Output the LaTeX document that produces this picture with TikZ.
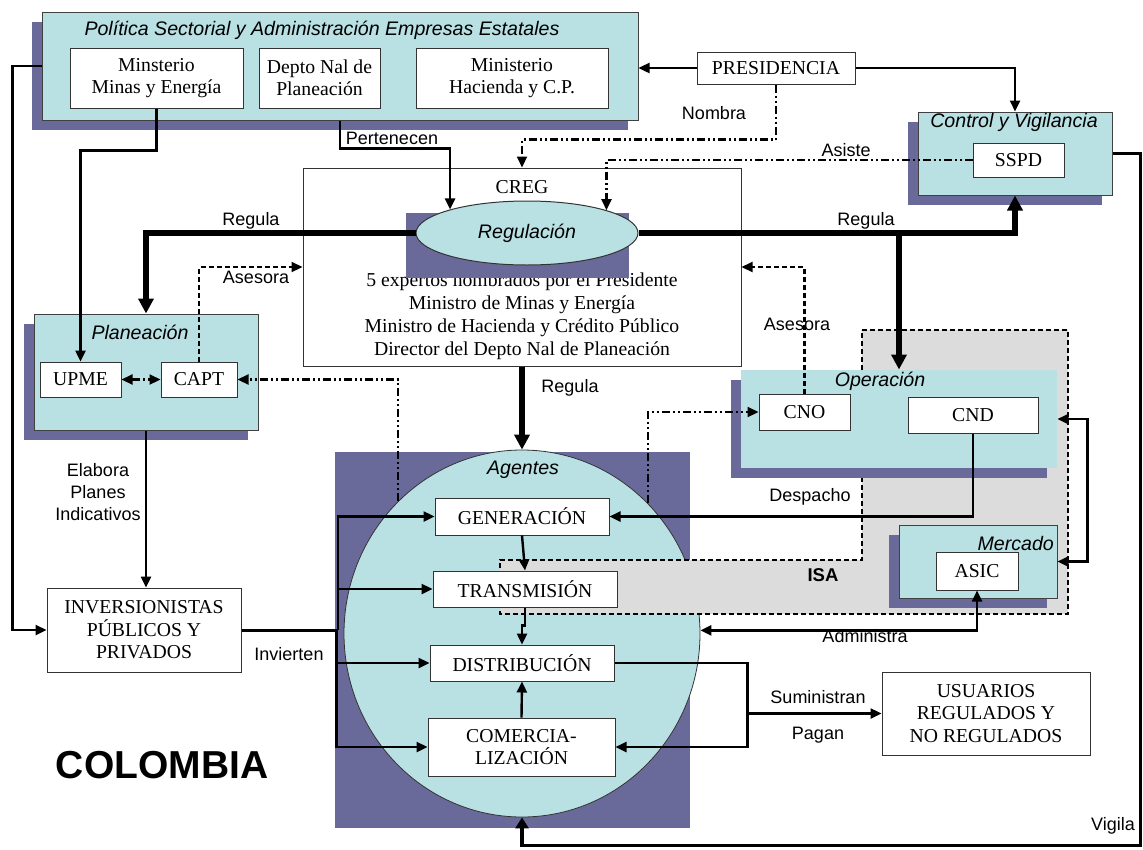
\documentclass[tikz,border=0pt]{standalone}
\usepackage{fontspec}
\setmainfont{Liberation Serif}
\setsansfont{Liberation Sans}
\usetikzlibrary{arrows.meta,shapes.geometric,shadows,calc}
\definecolor{tealc}{HTML}{B9E0E3}
\definecolor{shadc}{HTML}{6A6A9A}
\definecolor{isac}{HTML}{DCDCDC}
\newcommand\bxfont{\fontsize{19.7}{22.5}\selectfont\rmfamily}
\newcommand\lbfont{\fontsize{18}{22}\selectfont\sffamily}
\newcommand\tlfont{\fontsize{19.6}{22}\selectfont\sffamily\itshape}
\begin{document}
\begin{tikzpicture}[x=1pt,y=-1pt,
 wbox/.style={draw=black!80,fill=white,line width=1pt,inner sep=0pt,align=center,font=\bxfont},
 panel/.style={draw=black!75,fill=tealc,line width=1pt,inner sep=0pt,drop shadow={shadow xshift=-10pt,shadow yshift=-10pt,fill=shadc,opacity=1}},
 ttl/.style={font=\tlfont,inner sep=0pt},
 lbl/.style={font=\lbfont,inner sep=0pt,align=center},
 conn/.style={line width=2.4pt,-{Triangle[length=11pt,width=10pt]}},
 conntwo/.style={line width=2.4pt,{Triangle[length=11pt,width=10pt]}-{Triangle[length=11pt,width=10pt]}},
 heavy/.style={line width=5.5pt,-{Triangle[length=15pt,width=15pt]}},
 vig/.style={line width=3.8pt,-{Triangle[length=11pt,width=13pt]}},
 dd/.style={line width=2.2pt,dash pattern=on 8pt off 3pt on 2pt off 3pt on 2pt off 3pt},
 dsh/.style={line width=2.2pt,dash pattern=on 5pt off 3pt},
 tip/.style={-{Triangle[length=11pt,width=10pt]}},
 tips/.style={{Triangle[length=11pt,width=10pt]}-{Triangle[length=11pt,width=10pt]}},
]
\useasboundingbox (0,0) rectangle (1143,849);

% ---- Politica sectorial
\node[panel,minimum width=596pt,minimum height=108pt] (pol) at (340,66) {};
\node[ttl] (polt) at (322,30) {Política Sectorial y Administración Empresas Estatales};
\node[wbox,minimum width=173pt,minimum height=60pt] (mme) at (156.5,78) {Minsterio\\Minas y Energía};
\node[wbox,minimum width=121pt,minimum height=60pt] (dnp) at (319.5,78) {Depto Nal de\\Planeación};
\node[wbox,minimum width=192pt,minimum height=60pt] (mhc) at (512,78) {Ministerio\\Hacienda y C.P.};

% ---- Presidencia
\node[wbox,minimum width=158pt,minimum height=32pt] (pres) at (776,68) {PRESIDENCIA};

% ---- Control y vigilancia
\node[panel,minimum width=194pt,minimum height=83pt] (ctrl) at (1015,153.5) {};
\node[ttl] (ctrlt) at (1014,122) {Control y Vigilancia};
\node[wbox,minimum width=91pt,minimum height=34pt] (sspd) at (1018.5,160) {SSPD};

% ---- CREG
\node[wbox,minimum width=438pt,minimum height=198pt] (creg) at (522,267) {};
\node[font=\bxfont,inner sep=0pt] (cregt) at (522,187) {CREG};
\node[font=\fontsize{19.7}{23}\selectfont\rmfamily,align=center,inner sep=0pt] (cregb) at (522,316)
 {5 expertos nombrados por el Presidente\\Ministro de Minas y Energía\\Ministro de Hacienda y Crédito Público\\Director del Depto Nal de Planeación};
\fill[shadc] (406,213) rectangle (629,278);
\node[ellipse,draw=black!80,fill=tealc,line width=1pt,minimum width=222pt,minimum height=64pt,inner sep=0pt,font=\tlfont] (regul) at (527,233) {Regulación};

% ---- Planeacion
\node[panel,minimum width=224pt,minimum height=116pt] (plan) at (146,372) {};
\node[ttl] (plant) at (140,332) {Planeación};
\node[wbox,minimum width=81pt,minimum height=35pt] (upme) at (80.5,379.5) {UPME};
\node[wbox,minimum width=76pt,minimum height=35pt] (capt) at (199,379.5) {CAPT};

% ---- Agentes
\fill[shadc] (335,452) rectangle (690,828);
\node[ellipse,draw=black!80,fill=tealc,line width=0.8pt,minimum width=356pt,minimum height=367pt,inner sep=0pt] (ag) at (522,633.5) {};
\filldraw[fill=isac,draw=black,dsh] (862,330) -- (1068,330) -- (1068,614) -- (500,614) -- (500,560) -- (862,560) -- cycle;
\node[font=\fontsize{18.5}{21}\selectfont\sffamily\bfseries,inner sep=0pt] (isa) at (823,575) {ISA};
\node[ttl] (agt) at (523,470) {Agentes};
\node[wbox,minimum width=174pt,minimum height=37pt] (gen) at (522,516.5) {GENERACIÓN};
\node[wbox,minimum width=184pt,minimum height=36pt] (trans) at (525,589) {TRANSMISIÓN};
\node[wbox,minimum width=184pt,minimum height=36pt] (dist) at (522,663) {DISTRIBUCIÓN};
\node[wbox,minimum width=187pt,minimum height=58pt] (com) at (521.5,747) {COMERCIA-\\LIZACIÓN};

% ---- Operacion / Mercado
\node[panel,draw=none,minimum width=316pt,minimum height=98pt] (oper) at (899,419) {};
\node[ttl] (opert) at (880,381) {Operación};
\node[wbox,minimum width=91pt,minimum height=36pt] (cno) at (804.5,412) {CNO};
\node[wbox,minimum width=130pt,minimum height=36pt] (cnd) at (973,415) {CND};
\node[panel,minimum width=158pt,minimum height=73pt] (merc) at (978,561.5) {};
\node[ttl,anchor=east] (merct) at (1054,543) {Mercado};
\node[wbox,minimum width=82pt,minimum height=38pt] (asic) at (977,571) {ASIC};

% ---- Inversionistas / Usuarios
\node[wbox,minimum width=194pt,minimum height=84pt] (inv) at (144,630) {INVERSIONISTAS\\PÚBLICOS Y\\PRIVADOS};
\node[wbox,minimum width=208pt,minimum height=83pt] (usu) at (986,713.5) {USUARIOS\\REGULADOS Y\\NO REGULADOS};
\node[font=\fontsize{39}{44}\selectfont\sffamily\bfseries,inner sep=0pt] (col) at (162,765) {COLOMBIA};

% ---- connectors
\draw[conn] (pres.west) -- (pres.west -| pol.east);
\draw[conn] (pres.east) -| (ctrl.north);
\draw[dd,tip] (pres.south) |- ($(creg.north)+(0,-28)$) -- (creg.north);
\draw[dd,tip] (sspd.west) -| (regul.16);
\draw[conn] (pol.south) -- ++(0,28) -| (regul.163);
\draw[conn] (mme.south) -- ++(0,42) -| (upme.north);
\draw[conn] (pol.west) -- ++(-29,0) |- (inv.west);
\draw[heavy] (regul.west) -| (plan.north);
\draw[heavy] (regul.east) -| (ctrl.south);
\draw[heavy] (regul.east -| oper.north) -- (oper.north);
\draw[heavy] (creg.south) -- (ag.north);
\draw[dsh,tip] (capt.north) |- (creg.west);
\draw[dsh,tip] (cno.north) |- (creg.east);
\draw[dd,tips] (upme.east) -- (capt.west);
\draw[dd,tip] (ag.133.5) |- (capt.east);
\draw[dd,tip] (ag.46.5) |- (cno.west);
\draw[conn] (plan.south) -- (plan.south |- inv.north);
\coordinate (bus) at ($(inv.east)+(95,0)$);
\draw[line width=3pt] (inv.east) -- (bus);
\draw[conn] ([xshift=1.5pt]bus) |- (gen.west);
\draw[conn] ([xshift=1.5pt]bus) |- (trans.west);
\draw[conn] (bus) |- (dist.west);
\draw[conn] (bus) |- (com.west);
\draw[conn] (gen.south) -- (trans.north);
\draw[conn] (trans.south) -- ++(0,18) -| (dist.north);
\draw[conn] (com.north) -- (dist.south);
\draw[conn] (cnd.south) |- (gen.east);
\draw[conntwo] (oper.east) -- ++(30,0) |- (merc.east);
\draw[conntwo] (asic.south) |- (ag.1);
\coordinate (sup) at ($(dist.east)+(133,0)$);
\draw[conn] (dist.east) -- (sup) |- (com.east);
\draw[conn] (sup |- usu.west) -- (usu.west);
\draw[vig] (ctrl.east) -- ++(28,0) |- ($(ag.south)+(0,28)$) -- (ag.south);

% ---- labels
\node[lbl] (lnombra) at (714,113) {Nombra};
\node[lbl] (lasiste) at (846,150) {Asiste};
\node[lbl] (lpert) at (392,138) {Pertenecen};
\node[lbl] (lreg1) at (251,221) {Regula};
\node[lbl] (lreg2) at (866,221) {Regula};
\node[lbl] (lreg3) at (570,388) {Regula};
\node[lbl] (lases1) at (256,277) {Asesora};
\node[lbl] (lases2) at (797,324) {Asesora};
\node[lbl] (lelab) at (98,492) {Elabora\\Planes\\Indicativos};
\node[lbl] (linv) at (289,654) {Invierten};
\node[lbl] (ldesp) at (810,497) {Despacho};
\node[lbl] (ladm) at (865,636) {Administra};
\node[lbl] (lsum) at (818,697) {Suministran};
\node[lbl] (lpag) at (818,735) {Pagan};
\node[lbl] (lvig) at (1113,826) {Vigila};
\end{tikzpicture}
\end{document}
